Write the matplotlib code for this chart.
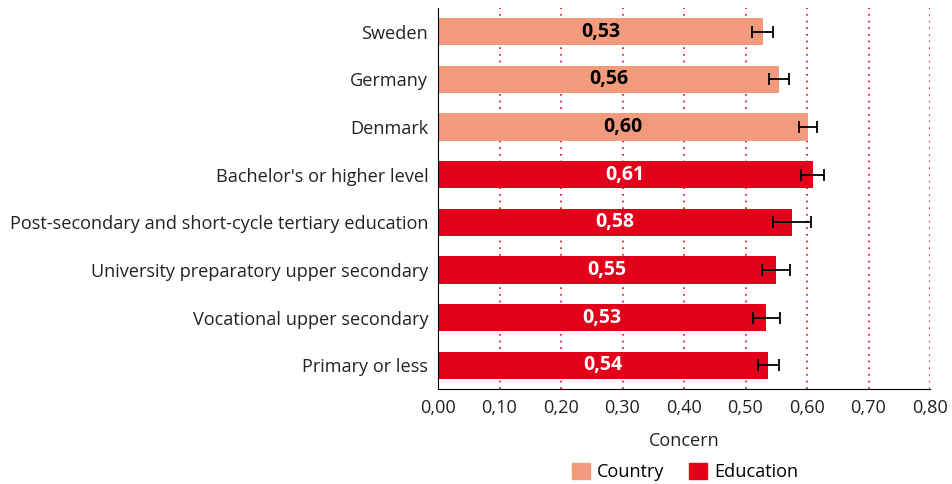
import matplotlib
matplotlib.use("Agg")
import matplotlib.pyplot as plt
from matplotlib.patches import Patch
import numpy as np

plt.rcParams['font.family'] = ['Open Sans', 'DejaVu Sans']

categories = ["Sweden", "Germany", "Denmark", "Bachelor's or higher level",
              "Post-secondary and short-cycle tertiary education",
              "University preparatory upper secondary",
              "Vocational upper secondary", "Primary or less"]
values = [0.528, 0.555, 0.602, 0.609, 0.576, 0.550, 0.534, 0.537]
labels = ["0,53", "0,56", "0,60", "0,61", "0,58", "0,55", "0,53", "0,54"]
ci_low = [0.511, 0.539, 0.587, 0.591, 0.545, 0.527, 0.513, 0.520]
ci_high = [0.544, 0.571, 0.617, 0.627, 0.607, 0.573, 0.556, 0.554]
groups = ["Country", "Country", "Country", "Education", "Education",
          "Education", "Education", "Education"]
xticks = [0.0, 0.1, 0.2, 0.3, 0.4, 0.5, 0.6, 0.7, 0.8]
xtick_labels = ["0,00", "0,10", "0,20", "0,30", "0,40", "0,50", "0,60", "0,70", "0,80"]

colors = {"Country": "#F29A7C", "Education": "#E2001A"}
text_colors = {"Country": "black", "Education": "white"}

fig = plt.figure(figsize=(9.52, 4.84), dpi=100)
ax = fig.add_axes([438/952, 1-389/484, (930-438)/952, (389-8)/484])

y = np.arange(len(categories))
vals = np.array(values)
xerr = np.array([vals - np.array(ci_low), np.array(ci_high) - vals])
ax.barh(y, vals, height=0.57, color=[colors[g] for g in groups], zorder=2)
ax.errorbar(vals, y, xerr=xerr, fmt='none', ecolor='black', elinewidth=1.3,
            capsize=4, capthick=1.3, zorder=3)
for yi, v, lab, g in zip(y, vals, labels, groups):
    ax.text(v/2, yi, lab, ha='center', va='center', fontsize=14,
            fontweight='bold', color=text_colors[g], zorder=4)

ax.set_ylim(len(categories)-0.5, -0.5)
ax.set_xlim(0, 0.8)
ax.set_yticks(y)
ax.set_yticklabels(categories, fontsize=13.1, color='#222222')
ax.set_xticks(xticks)
ax.set_xticklabels(xtick_labels, fontsize=13.1, color='#222222')
ax.tick_params(axis='both', length=0, pad=7)
for xv in xticks[1:]:
    ax.axvline(xv, color='#E2001A', linestyle=(0, (1, 3)), linewidth=1.2, zorder=1)
for s in ['top', 'right']:
    ax.spines[s].set_visible(False)
ax.spines['left'].set_color('black')
ax.spines['bottom'].set_color('black')
ax.set_xlabel("Concern", fontsize=13.1, color='#222222', labelpad=11)

handles = [Patch(color=colors["Country"], label="Country"),
           Patch(color=colors["Education"], label="Education")]
fig.legend(handles=handles, loc='center', bbox_to_anchor=(685/952, 1-472/484),
           ncol=2, frameon=False, fontsize=13.1, handlelength=1.0, handleheight=1.0,
           handletextpad=0.4, columnspacing=1.3)

fig.savefig("out.png", dpi=100)
